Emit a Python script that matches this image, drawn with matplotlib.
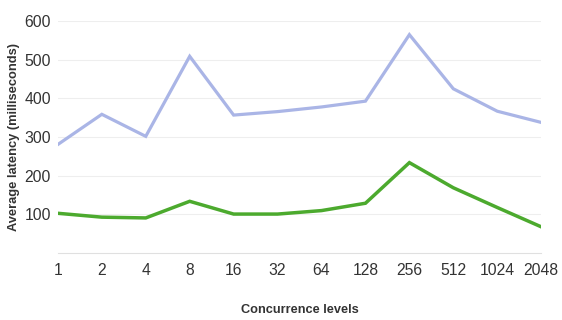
import matplotlib
matplotlib.use("Agg")
import matplotlib.pyplot as plt

plt.rcParams['font.family'] = ['Liberation Sans', 'DejaVu Sans']

levels = ["1", "2", "4", "8", "16", "32", "64", "128", "256", "512", "1024", "2048"]
series_a = [281, 359, 302, 509, 357, 366, 378, 393, 565, 425, 367, 338]
series_b = [103, 93, 91, 134, 101, 101, 110, 129, 234, 169, 118, 68]
yticks = [100, 200, 300, 400, 500, 600]

fig = plt.figure(figsize=(5.62, 3.2), dpi=100)
ax = fig.add_axes([0.103, 0.209, 0.860, 0.725])

x = list(range(len(levels)))
ax.plot(x, series_a, color="#aab5e6", lw=2.3, solid_joinstyle="miter")
ax.plot(x, series_b, color="#4caa2e", lw=2.5, solid_joinstyle="miter")

ax.set_xlim(0, len(levels) - 1)
ax.set_ylim(0, 600)
ax.set_yticks(yticks)
ax.set_xticks(x)
ax.set_xticklabels(levels)
ax.grid(axis="y", color="#eeeeee", lw=0.8)
ax.set_axisbelow(True)
for s in ["top", "right", "left"]:
    ax.spines[s].set_visible(False)
ax.spines["bottom"].set_color("#e0e0e0")
ax.tick_params(axis="both", length=0, labelsize=11.3, colors="#333333")
ax.tick_params(axis="y", pad=5)
ax.tick_params(axis="x", pad=7)

ax.set_xlabel("Concurrence levels", fontsize=9.2, fontweight="bold", color="#333333", labelpad=19)
ax.set_ylabel("Average latency (milliseconds)", fontsize=9.3, fontweight="bold", color="#333333", labelpad=3)

fig.savefig("out.png", dpi=100)
